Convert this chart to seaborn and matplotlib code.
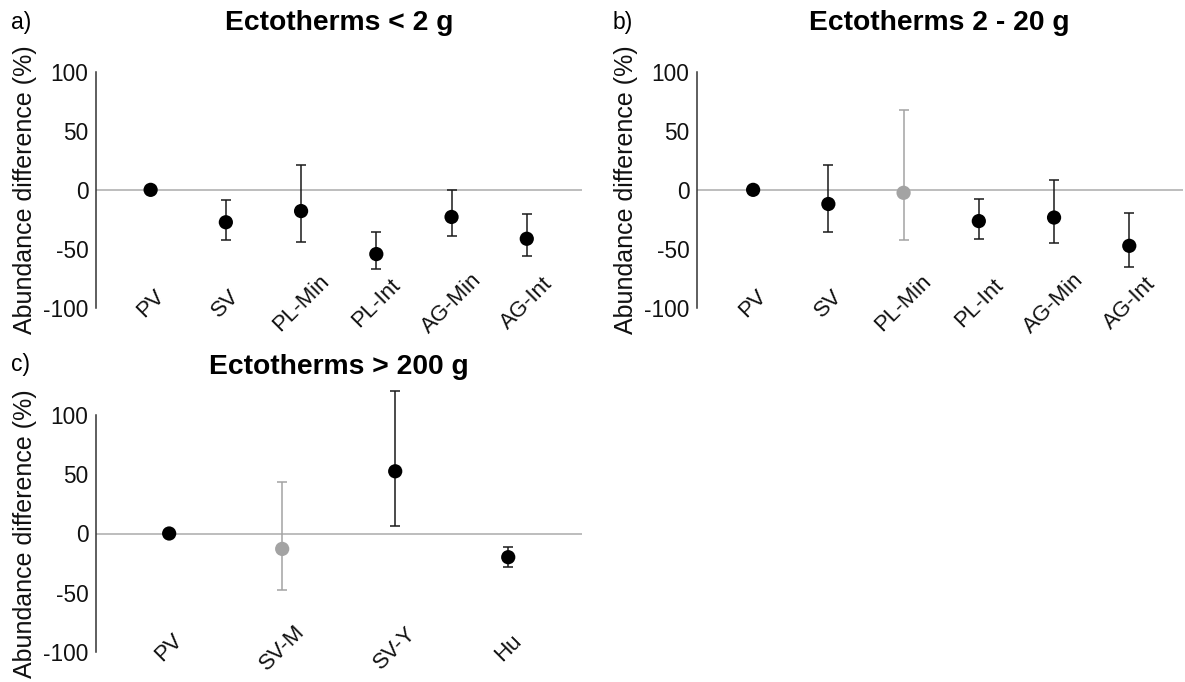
import numpy as np
import pandas as pd
import matplotlib
matplotlib.use("Agg")
import matplotlib.pyplot as plt
import matplotlib.transforms as mtransforms
import seaborn as sns

# ---------------- data ----------------
cats_a = ["PV", "SV", "PL-Min", "PL-Int", "AG-Min", "AG-Int"]
mean_a = [0, -27.5, -18, -54.5, -23, -41.5]
low_a = [np.nan, -42.5, -44.5, -67, -39.5, -56]
high_a = [np.nan, -9, 21, -35.5, 0, -20.5]
sig_a = ["sig", "sig", "sig", "sig", "sig", "sig"]

cats_b = ["PV", "SV", "PL-Min", "PL-Int", "AG-Min", "AG-Int"]
mean_b = [0, -12, -2.5, -26.5, -23.5, -47.5]
low_b = [np.nan, -35.5, -42.5, -41.5, -45.5, -65.5]
high_b = [np.nan, 21, 67.5, -8, 8, -19.5]
sig_b = ["sig", "sig", "ns", "sig", "sig", "sig"]

cats_c = ["PV", "SV-M", "SV-Y", "Hu"]
mean_c = [0, -13, 52.5, -20]
low_c = [np.nan, -47.5, 6, -28]
high_c = [np.nan, 43.5, 120.5, -11]
sig_c = ["sig", "ns", "sig", "sig"]

titles = ["Ectotherms < 2 g", "Ectotherms 2 - 20 g", "Ectotherms > 200 g"]
panel_letters = ["a)", "b)", "c)"]
ylabel = "Abundance difference (%)"
yticks = [-100, -50, 0, 50, 100]

# ---------------- style ----------------
sns.set_style("white")
plt.rcParams["font.family"] = ["Liberation Sans", "DejaVu Sans"]

W, H = 1185, 682
fig = plt.figure(figsize=(W / 100, H / 100), dpi=100)
fig.patch.set_facecolor("white")

palette = {"sig": "black", "ns": "#A3A3A3"}
ecol = {"sig": "#1a1a1a", "ns": "#A3A3A3"}


def add_panel(left_px, y100_px, ym100_px, width_px, ylo, yhi):
    ppu = (ym100_px - y100_px) / 200.0
    top_px = y100_px - (yhi - 100) * ppu
    bot_px = ym100_px + (-100 - ylo) * ppu
    ax = fig.add_axes([left_px / W, 1 - bot_px / H, width_px / W,
                       (bot_px - top_px) / H])
    ax.set_ylim(ylo, yhi)
    return ax


def draw(ax, cats, mean, low, high, sig, xlim):
    pos = np.arange(len(cats))
    df = pd.DataFrame({"pos": pos, "mean": mean, "low": low,
                       "high": high, "sig": sig})
    ax.axhline(0, color="#B8B8B8", lw=1.3, zorder=1)
    for _, r in df.dropna(subset=["low", "high"]).iterrows():
        ax.errorbar(r["pos"], r["mean"],
                    yerr=[[r["mean"] - r["low"]], [r["high"] - r["mean"]]],
                    fmt="none", ecolor=ecol[r["sig"]], elinewidth=1.1,
                    capsize=3.6, capthick=1.1, zorder=2, clip_on=False)
    sns.scatterplot(data=df, x="pos", y="mean", hue="sig", palette=palette,
                    s=105, linewidth=0, legend=False, ax=ax, zorder=3,
                    clip_on=False)
    ax.set_xlim(*xlim)
    ax.set_xticks(pos)
    ax.set_xticklabels(cats, rotation=45, ha="center", va="center",
                       rotation_mode="anchor", fontsize=16, color="#111111")
    ax.tick_params(axis="x", length=0, pad=-3)
    ax.set_yticks(yticks)
    ax.set_yticklabels([str(t) for t in yticks], fontsize=16.3, color="#111111")
    ax.tick_params(axis="y", length=3.2, width=1.0, color="#333333", pad=2)
    for s in ["top", "right", "bottom"]:
        ax.spines[s].set_visible(False)
    ax.spines["left"].set_bounds(-100, 100)
    ax.spines["left"].set_color("#333333")
    ax.spines["left"].set_linewidth(1.1)
    ax.set_xlabel("")
    ax.set_ylabel(ylabel, fontsize=18, va="center", color="#111111")
    tr = mtransforms.blended_transform_factory(ax.transAxes, ax.transData)
    ax.yaxis.set_label_coords(-70.5 / 486.0, 0, transform=tr)
    ax.grid(False)
    ax.set_facecolor("none")


axA = add_panel(95.7, 72, 307.7, 486, -100, 100)
axB = add_panel(696.7, 72, 307.7, 486, -100, 100)
axC = add_panel(95.7, 415, 652, 486, -100, 125)

draw(axA, cats_a, mean_a, low_a, high_a, sig_a, (-0.73, 5.73))
draw(axB, cats_b, mean_b, low_b, high_b, sig_b, (-0.75, 5.71))
draw(axC, cats_c, mean_c, low_c, high_c, sig_c, (-0.65, 3.65))

# titles and panel letters
title_pos = [((95.7 + 581.7) / 2, 30.5), ((696.7 + 1182.7) / 2, 30.5),
             ((95.7 + 581.7) / 2, 374)]
for (x, y), t in zip(title_pos, titles):
    fig.text(x / W, 1 - y / H, t, ha="center", va="baseline",
             fontsize=20.3, fontweight="bold", color="black")

letter_pos = [(11, 23), (613, 23), (11, 365)]
for (x, y), t in zip(letter_pos, panel_letters):
    fig.text(x / W, 1 - y / H, t, ha="left", va="center", fontsize=16.5,
             color="black")

fig.savefig("out.png", dpi=100, facecolor="white")
